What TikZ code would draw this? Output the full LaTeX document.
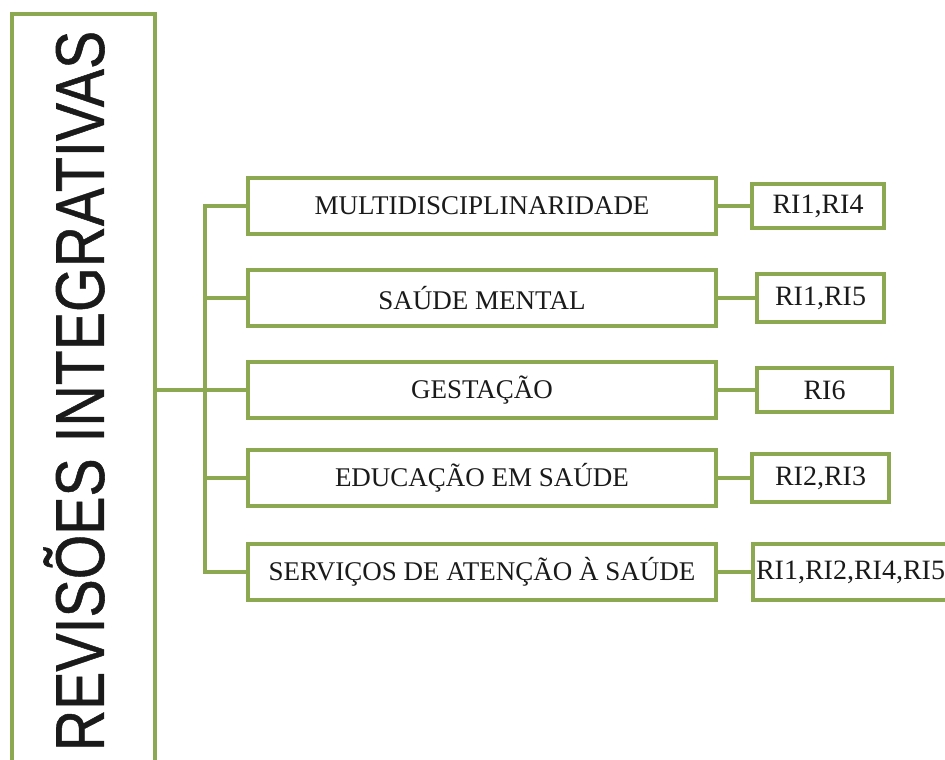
\documentclass[tikz,border=0pt]{standalone}
\usepackage{fontspec}
\usepackage{graphicx}
\setmainfont{Liberation Serif}
\newfontfamily\titlefont{Liberation Sans}[FakeBold=0.8]
\usetikzlibrary{positioning}
\definecolor{RevGreen}{HTML}{8CA850}
\definecolor{RevText}{HTML}{1A1A1A}

\begin{document}
\begin{tikzpicture}[x=1pt,y=-1pt,
    box/.style={draw=RevGreen, line width=4pt, fill=white, minimum width=468pt, minimum height=56pt, inner sep=0pt, text=RevText, font=\fontsize{27}{27}\selectfont},
    rbox/.style={draw=RevGreen, line width=4pt, fill=white, minimum height=44pt, inner sep=3pt, text=RevText, font=\fontsize{28}{28}\selectfont},
    link/.style={draw=RevGreen, line width=4pt}]
        \useasboundingbox (0,0) rectangle (945,760);
        \clip (0,0) rectangle (945,760);

        % Root box, open at the bottom of the page
        \node[draw=RevGreen, line width=4pt, minimum width=143pt, minimum height=790pt, inner sep=0pt] (root) at (83.5,409) {};
        \node[rotate=90, text=RevText, font=\titlefont\fontsize{69}{69}\selectfont] (title) at (74,391) {\scalebox{0.83}[1]{REVISÕES INTEGRATIVAS}};

        % Topics
        \node[box] (multi) at (482,206) {MULTIDISCIPLINARIDADE};
        \node[box] (mental) at (482,298) {SAÚDE MENTAL};
        \node[box] (gest) at (482,390) {GESTAÇÃO};
        \node[box] (educ) at (482,478) {EDUCAÇÃO EM SAÚDE};
        \node[box] (serv) at (482,572) {SERVIÇOS DE ATENÇÃO À SAÚDE};

        % Reviews
        \node[rbox, minimum width=132pt, right=32pt of multi] (rmulti) {RI1,RI4};
        \node[rbox, minimum width=127pt, minimum height=48pt, right=37pt of mental] (rmental) {RI1,RI5};
        \node[rbox, minimum width=135pt, right=37pt of gest] (rgest) {RI6};
        \node[rbox, minimum width=137pt, minimum height=48pt, right=32pt of educ] (reduc) {RI2,RI3};
        \node[rbox, minimum height=56pt, anchor=west] (rserv) at ([xshift=33pt]serv.east) {RI1,RI2,RI4,RI5\hspace{30pt}};

        % Trunk
        \coordinate (trunk) at (205,0);
        \draw[link] (multi.west) -- (multi.west -| trunk) -- (serv.west -| trunk) -- (serv.west);
        \foreach \n in {mental,gest,educ}
          \draw[link] (\n.west) -- (\n.west -| trunk);
        \draw[link] (root.east |- gest.west) -- (gest.west -| trunk);

        % Branches to the reviews
        \foreach \a/\b in {multi/rmulti,mental/rmental,gest/rgest,educ/reduc,serv/rserv}
          \draw[link] (\a.east) -- (\a.east -| \b.west);
\end{tikzpicture}
\end{document}
